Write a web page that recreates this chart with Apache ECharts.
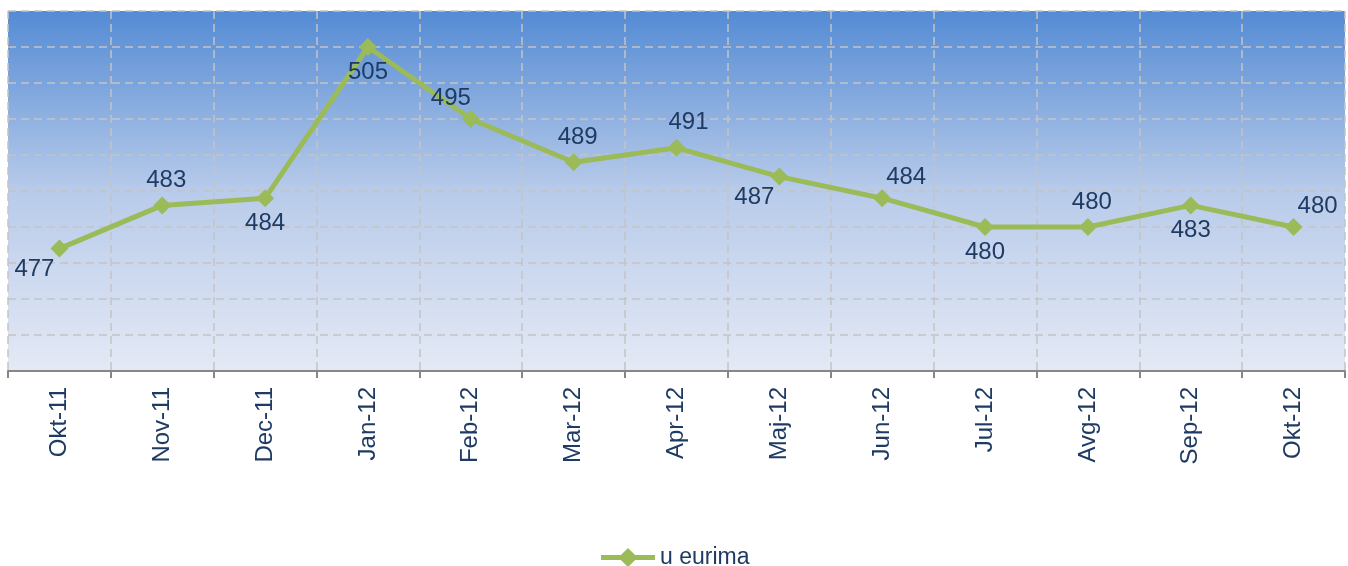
<!DOCTYPE html>
<html>
<head>
<meta charset="utf-8">
<script src="https://cdn.jsdelivr.net/npm/echarts@6/dist/echarts.min.js"></script>
<style>
html,body{margin:0;padding:0;background:#fff;}
#c{width:1348px;height:566px;}
</style>
</head>
<body>
<div id="c"></div>
<script>
const categories = ['Okt-11','Nov-11','Dec-11','Jan-12','Feb-12','Mar-12','Apr-12','Maj-12','Jun-12','Jul-12','Avg-12','Sep-12','Okt-12'];
const values = [477, 483, 484, 505, 495, 489, 491, 487, 484, 480, 480, 483, 480];
const seriesName = 'u eurima';
const labelPlacement = ['bottomLeft','top','bottom','bottom','topLeft','top','topR','bottomLeft','topRight','bottom','top','bottom','topRight'];

const txt = '#1F3B63';
const FONT = 'Liberation Sans, Arial, sans-serif';
const placeCfg = {
  top: {position: 'top', distance: 4, offset: [4, 0]},
  topR: {position: 'top', distance: 4, offset: [12, 0]},
  bottom: {position: 'bottom', distance: 4, offset: [0, 0]},
  topLeft: {position: 'top', distance: 0, offset: [-20, 0]},
  topRight: {position: 'top', distance: 0, offset: [24, 0]},
  bottomLeft: {position: 'bottom', distance: 0, offset: [-25, 0]}
};
const data = values.map((v, i) => ({value: v, label: placeCfg[labelPlacement[i]]}));

const chart = echarts.init(document.getElementById('c'));
chart.setOption({
  animation: false,
  grid: {
    left: 8, right: 3, top: 11, bottom: 195, show: true, borderWidth: 0,
    backgroundColor: {
      type: 'linear', x: 0, y: 0, x2: 0, y2: 1,
      colorStops: [
        {offset: 0, color: '#548BD4'},
        {offset: 0.5, color: '#B8CBEA'},
        {offset: 1, color: '#E4E9F5'}
      ]
    }
  },
  legend: {
    top: 541, left: 'center', itemWidth: 54, itemHeight: 24, itemGap: 3,
    lineStyle: {width: 5},
    textStyle: {color: txt, fontSize: 23, fontFamily: FONT},
    data: [seriesName]
  },
  xAxis: {
    type: 'category', data: categories, boundaryGap: true,
    axisLine: {lineStyle: {color: '#868686', width: 2}},
    axisTick: {show: true, length: 7, lineStyle: {color: '#868686', width: 2}},
    axisLabel: {rotate: 90, margin: 16, color: txt, fontSize: 24, fontFamily: FONT},
    splitLine: {show: true, lineStyle: {color: '#C4C4C4', width: 1.5, type: [8, 5]}}
  },
  yAxis: {
    type: 'value', min: 460, max: 510, interval: 5,
    axisLine: {show: false}, axisTick: {show: false}, axisLabel: {show: false},
    splitLine: {show: true, lineStyle: {color: '#C4C4C4', width: 1.5, type: [8, 5]}}
  },
  series: [{
    name: seriesName, type: 'line', data: data,
    symbol: 'diamond', symbolSize: 18,
    lineStyle: {color: '#9BBB59', width: 5},
    itemStyle: {color: '#9BBB59'},
    label: {show: true, color: txt, fontSize: 24, fontFamily: FONT}
  }]
});
</script>
</body>
</html>
